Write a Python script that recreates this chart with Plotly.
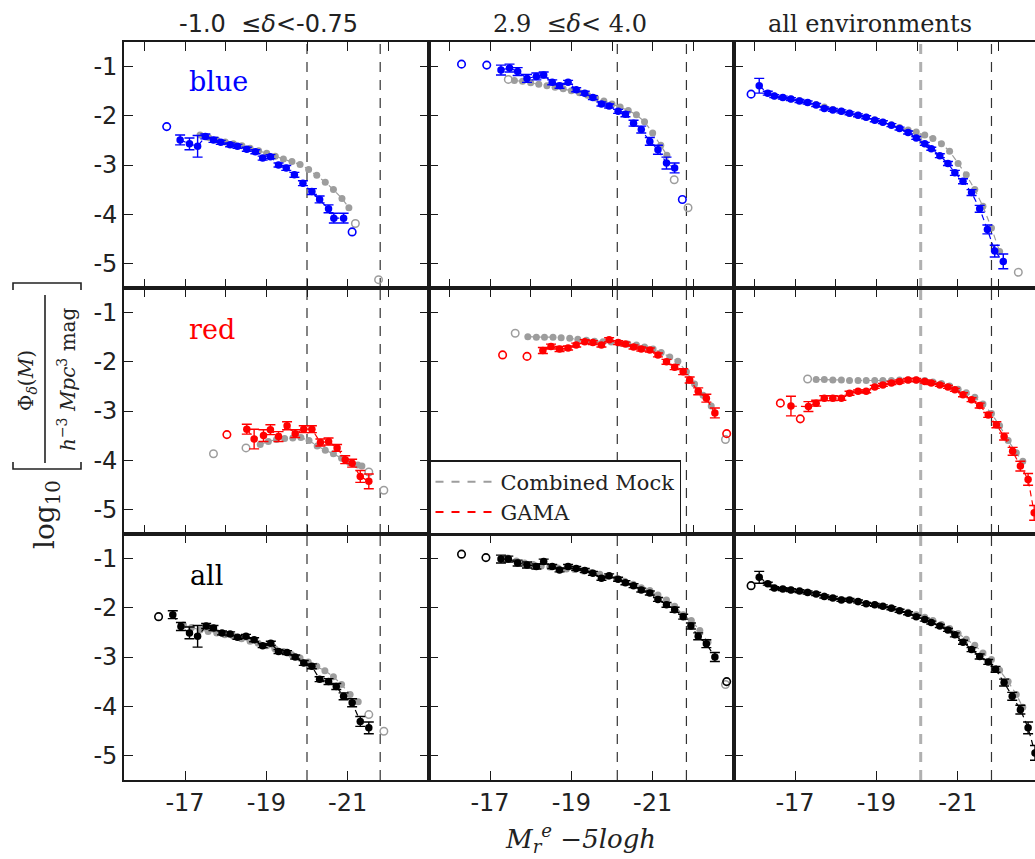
import plotly.graph_objects as go

# ---------------- luminosity function values: log10 Phi per magnitude bin ----------------
# lowest-density environment, blue galaxies
blue_lo_M = [-16.88, -17.11, -17.31, -17.50, -17.70, -17.88, -18.11, -18.29, -18.52, -18.73, -18.91,
             -19.10, -19.30, -19.49, -19.69, -19.90, -20.12, -20.31, -20.53, -20.66, -20.90]
blue_lo_phi = [-2.49, -2.57, -2.62, -2.42, -2.49, -2.54, -2.59, -2.62, -2.68, -2.73, -2.86,
               -2.83, -3.00, -3.06, -3.20, -3.37, -3.54, -3.70, -3.89, -4.08, -4.08]
blue_lo_err = [0.10, 0.12, 0.22, 0.05, 0.05, 0.04, 0.04, 0.04, 0.04, 0.04, 0.04,
               0.04, 0.04, 0.05, 0.05, 0.05, 0.06, 0.07, 0.08, 0.10, 0.10]
blue_lo_open_M = [-16.55, -21.11]
blue_lo_open_phi = [-2.22, -4.36]
mock_blue_lo_M = [-17.37, -17.58, -17.78, -17.99, -18.19, -18.40, -18.60, -18.81, -19.01, -19.22,
                  -19.42, -19.63, -19.83, -20.04, -20.24, -20.45, -20.65, -20.86, -21.03]
mock_blue_lo_phi = [-2.39, -2.44, -2.49, -2.53, -2.57, -2.61, -2.66, -2.71, -2.76, -2.82,
                    -2.88, -2.93, -2.99, -3.09, -3.21, -3.35, -3.50, -3.68, -3.87]
mock_blue_lo_open_M = [-21.19, -21.76]
mock_blue_lo_open_phi = [-4.19, -5.33]

# highest-density environment, blue galaxies
blue_hi_M = [-17.27, -17.48, -17.68, -17.91, -18.14, -18.32, -18.53, -18.71, -18.92, -19.12, -19.33,
             -19.53, -19.74, -19.93, -20.15, -20.33, -20.53, -20.72, -20.93, -21.13, -21.34, -21.54]
blue_hi_phi = [-1.07, -1.03, -1.10, -1.24, -1.20, -1.17, -1.32, -1.39, -1.32, -1.47, -1.54,
               -1.63, -1.76, -1.80, -1.91, -1.97, -2.15, -2.28, -2.52, -2.69, -2.96, -3.06]
blue_hi_err = [0.10, 0.08, 0.08, 0.08, 0.07, 0.06, 0.05, 0.05, 0.04, 0.04, 0.04,
               0.04, 0.04, 0.04, 0.04, 0.05, 0.06, 0.07, 0.08, 0.09, 0.12, 0.10]
blue_hi_open_M = [-16.30, -16.92, -21.73]
blue_hi_open_phi = [-0.95, -0.97, -3.70]
mock_blue_hi_M = [-17.60, -17.80, -18.00, -18.20, -18.40, -18.60, -18.80, -19.00, -19.20, -19.40,
                  -19.60, -19.80, -20.00, -20.20, -20.40, -20.60, -20.80, -21.00, -21.20, -21.35]
mock_blue_hi_phi = [-1.28, -1.30, -1.33, -1.36, -1.39, -1.42, -1.45, -1.49, -1.53, -1.58,
                    -1.64, -1.70, -1.76, -1.82, -1.89, -1.98, -2.12, -2.35, -2.60, -2.80]
mock_blue_hi_open_M = [-17.45, -21.53, -21.87]
mock_blue_hi_open_phi = [-1.26, -3.30, -3.87]

# all environments, blue galaxies
blue_all_M = [-16.12, -16.33, -16.49, -16.70, -16.90, -17.11, -17.31, -17.52, -17.72, -17.93, -18.14,
              -18.34, -18.55, -18.75, -18.96, -19.16, -19.37, -19.57, -19.78, -19.98, -20.19, -20.35,
              -20.56, -20.76, -20.93, -21.13, -21.34, -21.54, -21.73, -21.91, -22.12]
blue_all_phi = [-1.39, -1.54, -1.60, -1.63, -1.66, -1.70, -1.73, -1.78, -1.85, -1.88, -1.91,
                -1.95, -1.99, -2.03, -2.09, -2.13, -2.19, -2.26, -2.34, -2.45, -2.57, -2.67,
                -2.81, -2.97, -3.16, -3.33, -3.56, -3.89, -4.31, -4.75, -4.96]
blue_all_err = [0.15, 0.04, 0.03, 0.03, 0.03, 0.03, 0.03, 0.03, 0.03, 0.03, 0.03,
                0.03, 0.03, 0.03, 0.03, 0.03, 0.03, 0.03, 0.03, 0.03, 0.03, 0.03,
                0.04, 0.04, 0.05, 0.05, 0.06, 0.07, 0.09, 0.12, 0.15]
blue_all_open_M = [-15.92]
blue_all_open_phi = [-1.56]
mock_blue_all_M = [-16.50, -16.70, -16.90, -17.11, -17.31, -17.52, -17.72, -17.93, -18.14, -18.34,
                   -18.55, -18.75, -18.96, -19.16, -19.37, -19.57, -19.78, -19.98, -20.19, -20.39,
                   -20.60, -20.80, -21.01, -21.21, -21.42, -21.62, -21.83, -22.03]
mock_blue_all_phi = [-1.60, -1.63, -1.66, -1.69, -1.73, -1.77, -1.82, -1.87, -1.91, -1.95,
                     -1.99, -2.03, -2.08, -2.13, -2.18, -2.24, -2.29, -2.33, -2.39, -2.46,
                     -2.57, -2.72, -2.97, -3.20, -3.50, -3.84, -4.28, -4.76]
mock_blue_all_open_M = [-22.49]
mock_blue_all_open_phi = [-5.18]

# lowest-density environment, red galaxies
red_lo_M = [-18.52, -18.70, -18.93, -19.10, -19.30, -19.51, -19.71, -19.92, -20.12, -20.33, -20.53,
            -20.74, -20.94, -21.11, -21.31, -21.52]
red_lo_phi = [-3.37, -3.57, -3.50, -3.38, -3.52, -3.30, -3.46, -3.37, -3.37, -3.64, -3.62,
              -3.75, -3.99, -4.06, -4.33, -4.43]
red_lo_err = [0.10, 0.20, 0.12, 0.10, 0.10, 0.08, 0.08, 0.07, 0.07, 0.07, 0.07,
              0.07, 0.08, 0.08, 0.12, 0.15]
red_lo_open_M = [-18.03]
red_lo_open_phi = [-3.48]
mock_red_lo_M = [-18.85, -19.05, -19.25, -19.45, -19.65, -19.85, -20.05, -20.25, -20.45, -20.65,
                 -20.85, -21.05, -21.25, -21.35]
mock_red_lo_phi = [-3.68, -3.62, -3.58, -3.56, -3.55, -3.54, -3.60, -3.71, -3.80, -3.87,
                   -3.96, -4.05, -4.10, -4.12]
mock_red_lo_open_M = [-17.70, -18.50, -21.52, -21.89]
mock_red_lo_open_phi = [-3.87, -3.75, -4.24, -4.61]

# highest-density environment, red galaxies
red_hi_M = [-18.30, -18.50, -18.71, -18.92, -19.12, -19.33, -19.53, -19.74, -19.93, -20.15, -20.33,
            -20.53, -20.72, -20.93, -21.13, -21.34, -21.54, -21.75, -21.91, -22.12, -22.32, -22.53]
red_hi_phi = [-1.77, -1.69, -1.74, -1.72, -1.66, -1.59, -1.61, -1.66, -1.55, -1.61, -1.64,
              -1.70, -1.74, -1.76, -1.86, -2.00, -2.11, -2.20, -2.37, -2.60, -2.74, -3.04]
red_hi_err = [0.06, 0.05, 0.05, 0.04, 0.04, 0.04, 0.04, 0.04, 0.04, 0.04, 0.04,
              0.04, 0.04, 0.04, 0.04, 0.05, 0.05, 0.06, 0.06, 0.07, 0.08, 0.10]
red_hi_open_M = [-17.31, -17.91, -22.82]
red_hi_open_phi = [-1.86, -1.89, -3.46]
mock_red_hi_M = [-17.93, -18.14, -18.34, -18.55, -18.75, -18.96, -19.16, -19.37, -19.57, -19.78,
                 -19.98, -20.19, -20.39, -20.60, -20.80, -21.01, -21.21, -21.42, -21.62, -21.83,
                 -22.03, -22.24, -22.44]
mock_red_hi_phi = [-1.49, -1.50, -1.50, -1.50, -1.51, -1.52, -1.54, -1.56, -1.58, -1.59,
                   -1.60, -1.62, -1.64, -1.66, -1.70, -1.74, -1.81, -1.90, -1.99, -2.20,
                   -2.45, -2.68, -2.90]
mock_red_hi_open_M = [-17.62, -22.79]
mock_red_hi_open_phi = [-1.42, -3.58]

# all environments, red galaxies
red_all_M = [-16.90, -17.33, -17.52, -17.72, -17.93, -18.14, -18.34, -18.55, -18.75, -18.96,
             -19.16, -19.37, -19.57, -19.78, -19.98, -20.19, -20.35, -20.56, -20.76, -20.93,
             -21.13, -21.34, -21.54, -21.75, -21.95, -22.14, -22.35, -22.54, -22.73, -22.88]
red_all_phi = [-2.90, -2.91, -2.84, -2.74, -2.74, -2.74, -2.64, -2.60, -2.60, -2.51,
               -2.47, -2.43, -2.40, -2.37, -2.37, -2.40, -2.43, -2.47, -2.51, -2.57,
               -2.67, -2.77, -2.89, -3.08, -3.28, -3.52, -3.82, -4.12, -4.39, -5.07]
red_all_err = [0.20, 0.10, 0.06, 0.05, 0.05, 0.04, 0.04, 0.03, 0.03, 0.03,
               0.03, 0.03, 0.03, 0.03, 0.03, 0.03, 0.03, 0.03, 0.03, 0.03,
               0.04, 0.04, 0.05, 0.05, 0.06, 0.07, 0.08, 0.10, 0.12, 0.15]
red_all_open_M = [-16.64, -17.13]
red_all_open_phi = [-2.84, -3.16]
mock_red_all_M = [-17.52, -17.72, -17.93, -18.14, -18.34, -18.55, -18.75, -18.96, -19.16, -19.37,
                  -19.57, -19.78, -19.98, -20.19, -20.39, -20.60, -20.80, -21.01, -21.21, -21.42,
                  -21.62, -21.83, -22.03, -22.24, -22.44, -22.60]
mock_red_all_phi = [-2.36, -2.36, -2.37, -2.37, -2.38, -2.38, -2.38, -2.38, -2.38, -2.38,
                    -2.37, -2.37, -2.37, -2.38, -2.41, -2.44, -2.49, -2.56, -2.63, -2.72,
                    -2.86, -3.05, -3.30, -3.60, -3.85, -4.02]
mock_red_all_open_M = [-17.31]
mock_red_all_open_phi = [-2.35]

# lowest-density environment, all galaxies
all_lo_M = [-16.70, -16.90, -17.11, -17.31, -17.52, -17.70, -17.91, -18.11, -18.29, -18.50, -18.70,
            -18.91, -19.11, -19.30, -19.51, -19.71, -19.92, -20.12, -20.31, -20.53, -20.72, -20.90,
            -21.11, -21.31, -21.52]
all_lo_phi = [-2.14, -2.38, -2.51, -2.58, -2.37, -2.41, -2.51, -2.53, -2.60, -2.58, -2.65,
              -2.77, -2.72, -2.89, -2.91, -3.00, -3.12, -3.19, -3.45, -3.50, -3.60, -3.80,
              -3.93, -4.31, -4.44]
all_lo_err = [0.08, 0.08, 0.12, 0.22, 0.05, 0.05, 0.04, 0.04, 0.04, 0.04, 0.04,
              0.04, 0.04, 0.04, 0.04, 0.04, 0.05, 0.05, 0.05, 0.06, 0.06, 0.07,
              0.08, 0.10, 0.12]
all_lo_open_M = [-16.35]
all_lo_open_phi = [-2.18]
mock_all_lo_M = [-16.96, -17.16, -17.37, -17.57, -17.78, -17.98, -18.19, -18.39, -18.60, -18.80,
                 -19.01, -19.21, -19.42, -19.62, -19.83, -20.03, -20.24, -20.44, -20.65, -20.85,
                 -21.06, -21.26]
mock_all_lo_phi = [-2.35, -2.40, -2.45, -2.48, -2.51, -2.55, -2.58, -2.63, -2.68, -2.72,
                   -2.77, -2.83, -2.89, -2.95, -3.02, -3.10, -3.19, -3.28, -3.40, -3.56,
                   -3.76, -3.91]
mock_all_lo_open_M = [-21.52, -21.89]
mock_all_lo_open_phi = [-4.17, -4.51]

# highest-density environment, all galaxies
all_hi_M = [-17.27, -17.45, -17.68, -17.91, -18.14, -18.32, -18.53, -18.71, -18.92, -19.12, -19.33,
            -19.53, -19.74, -19.93, -20.15, -20.33, -20.53, -20.72, -20.93, -21.13, -21.34, -21.54,
            -21.75, -21.94, -22.12, -22.32, -22.53]
all_hi_phi = [-1.01, -1.01, -1.09, -1.13, -1.16, -1.06, -1.16, -1.23, -1.16, -1.20, -1.24,
              -1.30, -1.40, -1.35, -1.42, -1.49, -1.55, -1.64, -1.70, -1.83, -1.94, -2.04,
              -2.18, -2.37, -2.58, -2.73, -3.00]
all_hi_err = [0.08, 0.06, 0.06, 0.06, 0.05, 0.05, 0.04, 0.04, 0.04, 0.04, 0.04,
              0.04, 0.04, 0.04, 0.04, 0.04, 0.04, 0.04, 0.04, 0.04, 0.05, 0.05,
              0.05, 0.06, 0.07, 0.08, 0.09]
all_hi_open_M = [-16.30, -16.90, -22.82]
all_hi_open_phi = [-0.91, -0.98, -3.50]
mock_all_hi_M = [-17.44, -17.65, -17.85, -18.06, -18.26, -18.47, -18.67, -18.88, -19.08, -19.29,
                 -19.49, -19.70, -19.90, -20.11, -20.31, -20.52, -20.72, -20.93, -21.13, -21.34,
                 -21.54, -21.75, -21.95, -22.16, -22.36]
mock_all_hi_phi = [-0.99, -1.05, -1.09, -1.12, -1.15, -1.17, -1.19, -1.21, -1.22, -1.25,
                   -1.28, -1.32, -1.36, -1.41, -1.46, -1.52, -1.59, -1.65, -1.74, -1.84,
                   -1.97, -2.14, -2.26, -2.46, -2.70]
mock_all_hi_open_M = [-22.79]
mock_all_hi_open_phi = [-3.56]

# all environments, all galaxies
all_all_M = [-16.12, -16.33, -16.49, -16.70, -16.90, -17.11, -17.31, -17.52, -17.72, -17.93, -18.14,
             -18.34, -18.55, -18.75, -18.96, -19.16, -19.37, -19.57, -19.78, -19.98, -20.19, -20.35,
             -20.56, -20.76, -20.93, -21.13, -21.34, -21.54, -21.75, -21.93, -22.14, -22.34, -22.54,
             -22.73, -22.90]
all_all_phi = [-1.38, -1.51, -1.60, -1.62, -1.64, -1.66, -1.69, -1.72, -1.77, -1.80, -1.84,
               -1.84, -1.87, -1.92, -1.94, -1.97, -2.01, -2.06, -2.11, -2.18, -2.24, -2.30,
               -2.37, -2.45, -2.55, -2.70, -2.85, -2.99, -3.10, -3.25, -3.52, -3.80, -4.07,
               -4.44, -4.95]
all_all_err = [0.12, 0.03, 0.03, 0.03, 0.03, 0.03, 0.03, 0.03, 0.03, 0.03, 0.03,
               0.03, 0.03, 0.03, 0.03, 0.03, 0.03, 0.03, 0.03, 0.03, 0.03, 0.03,
               0.03, 0.03, 0.04, 0.04, 0.04, 0.05, 0.05, 0.06, 0.07, 0.08, 0.09,
               0.12, 0.15]
all_all_open_M = [-15.92]
all_all_open_phi = [-1.55]
mock_all_all_M = [-16.50, -16.90, -17.31, -17.72, -18.14, -18.55, -18.96, -19.37, -19.78, -19.98,
                  -20.19, -20.39, -20.60, -20.80, -21.01, -21.21, -21.42, -21.62, -21.83, -22.03,
                  -22.24, -22.44, -22.60]
mock_all_all_phi = [-1.60, -1.64, -1.68, -1.76, -1.83, -1.88, -1.94, -2.00, -2.09, -2.14,
                    -2.19, -2.26, -2.34, -2.42, -2.52, -2.64, -2.76, -2.92, -3.05, -3.27,
                    -3.50, -3.76, -4.02]
mock_all_all_open_M = []
mock_all_all_open_phi = []

# magnitude limits marked in each column
limits_lo = [-20.0, -21.8]
limits_hi = [-20.13, -21.83]
limits_all = [-20.09, -21.83]

column_titles = ["-1.0&nbsp; ≤<i>δ</i>&lt;-0.75", "2.9&nbsp; ≤<i>δ</i>&lt; 4.0", "all environments"]
row_labels = ["blue", "red", "all"]
x_tick_values = [-17, -19, -21]
y_tick_values = [-1, -2, -3, -4, -5]

# ---------------- figure geometry (pixels) ----------------
W, H = 1035, 859
COL_PX = [(124, 429), (429, 734), (734, 1035)]
ROW_PX = [(42, 288), (288, 534), (534, 780)]
X_RANGES = [[-15.5, -23.0], [-15.5, -23.0], [-15.5, -22.9]]
Y_RANGE = [-5.5, -0.5]

ROW_COLOURS = ["#0000ff", "#ff0000", "#000000"]
MOCK_GREY = "#9d9d9d"
FRAME = "#1a1a1a"
SERIF = "DejaVu Serif"
SANS = "DejaVu Sans"


def px_x(px):
    return px / W


def px_y(py):
    return 1 - py / H


panels = [
    # row 0: blue
    [(blue_lo_M, blue_lo_phi, blue_lo_err, blue_lo_open_M, blue_lo_open_phi,
      mock_blue_lo_M, mock_blue_lo_phi, mock_blue_lo_open_M, mock_blue_lo_open_phi),
     (blue_hi_M, blue_hi_phi, blue_hi_err, blue_hi_open_M, blue_hi_open_phi,
      mock_blue_hi_M, mock_blue_hi_phi, mock_blue_hi_open_M, mock_blue_hi_open_phi),
     (blue_all_M, blue_all_phi, blue_all_err, blue_all_open_M, blue_all_open_phi,
      mock_blue_all_M, mock_blue_all_phi, mock_blue_all_open_M, mock_blue_all_open_phi)],
    # row 1: red
    [(red_lo_M, red_lo_phi, red_lo_err, red_lo_open_M, red_lo_open_phi,
      mock_red_lo_M, mock_red_lo_phi, mock_red_lo_open_M, mock_red_lo_open_phi),
     (red_hi_M, red_hi_phi, red_hi_err, red_hi_open_M, red_hi_open_phi,
      mock_red_hi_M, mock_red_hi_phi, mock_red_hi_open_M, mock_red_hi_open_phi),
     (red_all_M, red_all_phi, red_all_err, red_all_open_M, red_all_open_phi,
      mock_red_all_M, mock_red_all_phi, mock_red_all_open_M, mock_red_all_open_phi)],
    # row 2: all galaxies
    [(all_lo_M, all_lo_phi, all_lo_err, all_lo_open_M, all_lo_open_phi,
      mock_all_lo_M, mock_all_lo_phi, mock_all_lo_open_M, mock_all_lo_open_phi),
     (all_hi_M, all_hi_phi, all_hi_err, all_hi_open_M, all_hi_open_phi,
      mock_all_hi_M, mock_all_hi_phi, mock_all_hi_open_M, mock_all_hi_open_phi),
     (all_all_M, all_all_phi, all_all_err, all_all_open_M, all_all_open_phi,
      mock_all_all_M, mock_all_all_phi, mock_all_all_open_M, mock_all_all_open_phi)],
]
column_limits = [limits_lo, limits_hi, limits_all]

fig = go.Figure()
layout = dict(
    width=W, height=H, autosize=False,
    margin=dict(l=0, r=0, t=0, b=0),
    paper_bgcolor="white", plot_bgcolor="white",
    showlegend=True,
    shapes=[], annotations=[],
)

for r in range(3):
    for c in range(3):
        p = r * 3 + c
        sfx = "" if p == 0 else str(p + 1)
        xa, ya = "x" + sfx, "y" + sfx
        colour = ROW_COLOURS[r]
        (gM, gP, gE, goM, goP, mM, mP, moM, moP) = panels[r][c]

        # mock catalogue (drawn underneath)
        fig.add_trace(go.Scatter(
            x=mM, y=mP, xaxis=xa, yaxis=ya, mode="lines+markers", showlegend=False,
            line=dict(color=MOCK_GREY, width=1.2, dash="6px,4px"),
            marker=dict(color=MOCK_GREY, size=7, symbol="circle")))
        if moM:
            fig.add_trace(go.Scatter(
                x=moM, y=moP, xaxis=xa, yaxis=ya, mode="markers", showlegend=False,
                marker=dict(color=MOCK_GREY, size=7.5, symbol="circle-open", line=dict(width=1.5))))

        # GAMA measurements with error bars
        fig.add_trace(go.Scatter(
            x=gM, y=gP, xaxis=xa, yaxis=ya, mode="lines+markers", showlegend=False,
            line=dict(color=colour, width=1.2, dash="6px,4px"),
            marker=dict(color=colour, size=7.5, symbol="circle"),
            error_y=dict(type="data", array=gE, color=colour, thickness=1.4, width=5)))
        fig.add_trace(go.Scatter(
            x=goM, y=goP, xaxis=xa, yaxis=ya, mode="markers", showlegend=False,
            marker=dict(color=colour, size=7.5, symbol="circle-open", line=dict(width=1.6))))

        # axes
        x0, x1 = COL_PX[c]
        y0, y1 = ROW_PX[r]
        if r == 2:
            xt = dict(tickvals=x_tick_values, ticktext=[str(v) for v in x_tick_values],
                      showticklabels=True)
        else:
            xt = dict(tickvals=list(range(-16, -23, -1)), showticklabels=False)
        if c == 0:
            yt = dict(tickvals=y_tick_values, ticktext=[str(v) for v in y_tick_values],
                      showticklabels=True)
        else:
            yt = dict(tickvals=y_tick_values, showticklabels=False)
        layout["xaxis" + sfx] = dict(
            domain=[px_x(x0), px_x(x1)], range=X_RANGES[c], anchor=ya, tickmode="array",
            showgrid=False, zeroline=False, showline=True, linecolor=FRAME, linewidth=1.6,
            mirror="ticks", ticks="inside", ticklen=9, tickwidth=1.4, tickcolor=FRAME,
            tickfont=dict(family=SANS, size=24, color="#222"), **xt)
        layout["yaxis" + sfx] = dict(
            domain=[px_y(y1), px_y(y0)], range=Y_RANGE, anchor=xa, tickmode="array",
            showgrid=False, zeroline=False, showline=True, linecolor=FRAME, linewidth=1.6,
            mirror="ticks" if c < 2 else False, ticks="inside", ticklen=9, tickwidth=1.4,
            tickcolor=FRAME, tickfont=dict(family=SANS, size=24, color="#222"), **yt)

        # magnitude limits
        for k, lim in enumerate(column_limits[c]):
            grey_line = (c == 2 and k == 0)
            layout["shapes"].append(dict(
                type="line", xref=xa, yref=ya + " domain", x0=lim, x1=lim, y0=0, y1=1,
                layer="below",
                line=dict(color="#b0b0b0" if grey_line else "#333333",
                          width=3 if grey_line else 1.2, dash="10px,8px")))

# legend-only entries
fig.add_trace(go.Scatter(x=[None], y=[None], mode="lines", name="Combined Mock",
                         line=dict(color=MOCK_GREY, width=2, dash="8px,8px")))
fig.add_trace(go.Scatter(x=[None], y=[None], mode="lines", name="GAMA",
                         line=dict(color="#ff0000", width=2, dash="8px,8px")))
layout["legend"] = dict(
    x=px_x(429), y=px_y(534), xanchor="left", yanchor="bottom",
    bgcolor="white", bordercolor=FRAME, borderwidth=1.5,
    font=dict(family=SERIF, size=21, color="#222"), tracegroupgap=0, itemwidth=60)

# column titles
title_x = [268, 570, 870]
title_fonts = [SANS, SERIF, SERIF]
for c in range(3):
    layout["annotations"].append(dict(
        text=column_titles[c], x=px_x(title_x[c]), y=px_y(24), xref="paper", yref="paper",
        showarrow=False, xanchor="center", yanchor="middle",
        font=dict(family=title_fonts[c], size=24, color="#222")))

# row labels
label_pos = [(218, 82), (212, 330), (206, 575)]
for r in range(3):
    layout["annotations"].append(dict(
        text=row_labels[r], x=px_x(label_pos[r][0]), y=px_y(label_pos[r][1]),
        xref="paper", yref="paper", showarrow=False, xanchor="center", yanchor="middle",
        font=dict(family=SERIF, size=27, color=ROW_COLOURS[r])))

# x-axis title
layout["annotations"].append(dict(
    text="<i>M</i><sub><i>r</i></sub><sup><i>e</i></sup> <i>−5logh</i>",
    x=px_x(580), y=px_y(838), xref="paper", yref="paper", showarrow=False,
    xanchor="center", yanchor="middle", font=dict(family=SERIF, size=26, color="#222")))

# y-axis title: log10 [ Phi_delta(M) / (h^-3 Mpc^3 mag) ]
ylabel_parts = [
    ("log<sub>10</sub>", 46, 515, 28),
    ("Φ<sub><i>δ</i></sub>(<i>M</i>)", 27, 381, 20),
    ("<i>h</i><sup>−3</sup> <i>Mpc</i><sup>3</sup> mag", 67, 379, 20),
]
for txt, cx, cy, fs in ylabel_parts:
    layout["annotations"].append(dict(
        text=txt, x=px_x(cx), y=px_y(cy), xref="paper", yref="paper", showarrow=False,
        textangle=-90, xanchor="center", yanchor="middle",
        font=dict(family=SERIF, size=fs, color="#222")))

# fraction bar and brackets
layout["shapes"].append(dict(type="line", xref="paper", yref="paper",
                             x0=px_x(45), x1=px_x(45), y0=px_y(295), y1=px_y(463),
                             line=dict(color="#222", width=1.6)))
for ytop, ytip in [(283, 290), (469, 462)]:
    path = "M {a},{b} L {a},{c} L {d},{c} L {d},{b}".format(
        a=px_x(13), b=px_y(ytip), c=px_y(ytop), d=px_x(81))
    layout["shapes"].append(dict(type="path", xref="paper", yref="paper", path=path,
                                 line=dict(color="#222", width=1.6)))

fig.update_layout(**layout)
fig.write_html("out.html")
